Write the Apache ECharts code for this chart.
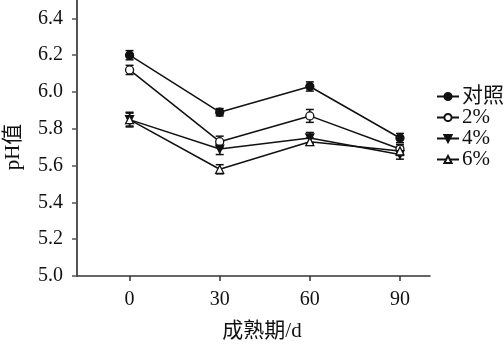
<!DOCTYPE html>
<html>
<head>
<meta charset="utf-8">
<script src="https://cdn.jsdelivr.net/npm/echarts@6/dist/echarts.min.js"></script>
<style>
  html, body { margin: 0; padding: 0; background: #fff; }
  #chart { width: 504px; height: 346px; }
</style>
</head>
<body>
<div id="chart"></div>
<script>
// Ripening time (days)
const days = [0, 30, 60, 90];
const xTicks = [0, 30, 60, 90];
const yTicks = [5.0, 5.2, 5.4, 5.6, 5.8, 6.0, 6.2, 6.4];

// Mean pH per treatment
const seriesNames = ['对照', '2%', '4%', '6%'];
const phControl = [6.20, 5.89, 6.03, 5.75];
const ph2 = [6.12, 5.73, 5.87, 5.69];
const ph4 = [5.85, 5.69, 5.75, 5.66];
const ph6 = [5.85, 5.58, 5.73, 5.68];

// Standard deviations
const sdControl = [0.025, 0.02, 0.025, 0.025];
const sd2 = [0.025, 0.03, 0.035, 0.025];
const sd4 = [0.035, 0.03, 0.03, 0.025];
const sd6 = [0.04, 0.025, 0.02, 0.025];

const means = [phControl, ph2, ph4, ph6];
const sds = [sdControl, sd2, sd4, sd6];

const serif = '"Liberation Serif", "Noto Sans CJK SC", serif';
const ink = '#111';

const markers = [
  { symbol: 'circle', fill: ink, rotate: 0, size: 8 },
  { symbol: 'circle', fill: '#fff', rotate: 0, size: 8 },
  { symbol: 'triangle', fill: ink, rotate: 180, size: 8 },
  { symbol: 'triangle', fill: '#fff', rotate: 0, size: 8 }
];

const series = [];

// Error bars drawn as vertical whiskers with caps
means.forEach((m, si) => {
  series.push({
    type: 'custom',
    silent: true,
    z: 1,
    data: days.map((d, i) => [d, m[i] - sds[si][i], m[i] + sds[si][i]]),
    renderItem: function (params, api) {
      const lo = api.coord([api.value(0), api.value(1)]);
      const hi = api.coord([api.value(0), api.value(2)]);
      const half = 4;
      const style = { stroke: ink, lineWidth: 1.5 };
      return {
        type: 'group',
        children: [
          { type: 'line', shape: { x1: lo[0], y1: lo[1], x2: hi[0], y2: hi[1] }, style },
          { type: 'line', shape: { x1: lo[0] - half, y1: lo[1], x2: lo[0] + half, y2: lo[1] }, style },
          { type: 'line', shape: { x1: hi[0] - half, y1: hi[1], x2: hi[0] + half, y2: hi[1] }, style }
        ]
      };
    }
  });
});

means.forEach((m, si) => {
  const mk = markers[si];
  series.push({
    name: seriesNames[si],
    type: 'line',
    z: 3,
    data: days.map((d, i) => [d, m[i]]),
    symbol: mk.symbol,
    symbolSize: mk.size,
    symbolRotate: mk.rotate,
    showAllSymbol: true,
    lineStyle: { color: ink, width: 1.5 },
    itemStyle: { color: mk.fill, borderColor: ink, borderWidth: 1.3 },
    emphasis: { disabled: true }
  });
});

const chart = echarts.init(document.getElementById('chart'), null, { renderer: 'canvas' });
chart.setOption({
  animation: false,
  backgroundColor: '#fff',
  grid: { left: 77, right: 74, top: 0, bottom: 70 },
  xAxis: {
    type: 'value',
    min: -17.5,
    max: 100,
    splitLine: { show: false },
    axisLine: { onZero: false, lineStyle: { color: '#333', width: 1.5 } },
    axisTick: { show: true, length: 5, customValues: xTicks, lineStyle: { color: '#333', width: 1.5 } },
    axisLabel: { customValues: xTicks, margin: 14, color: ink, fontFamily: serif, fontSize: 20 }
  },
  yAxis: {
    type: 'value',
    min: 5.0,
    max: 6.5,
    splitLine: { show: false },
    axisLine: { show: true, onZero: false, lineStyle: { color: '#555', width: 2 } },
    axisTick: { show: true, length: 5, customValues: yTicks, lineStyle: { color: '#555', width: 1.5 } },
    axisLabel: {
      customValues: yTicks,
      margin: 14,
      color: ink,
      fontFamily: serif,
      fontSize: 20,
      formatter: v => v.toFixed(1)
    }
  },
  legend: {
    orient: 'vertical',
    left: 431,
    top: 81,
    itemWidth: 22,
    itemHeight: 9,
    itemGap: 0,
    data: seriesNames,
    textStyle: { color: ink, fontFamily: serif, fontSize: 21, lineHeight: 20, padding: [0, 0, 0, -2] }
  },
  graphic: [
    {
      type: 'text',
      x: 13,
      y: 147,
      rotation: Math.PI / 2,
      style: { text: 'pH值', fill: ink, font: '21px ' + serif, align: 'center', verticalAlign: 'middle' }
    },
    {
      type: 'text',
      x: 262,
      y: 331,
      style: { text: '成熟期/d', fill: ink, font: '21px ' + serif, align: 'center', verticalAlign: 'middle' }
    }
  ],
  series
});
</script>
</body>
</html>
